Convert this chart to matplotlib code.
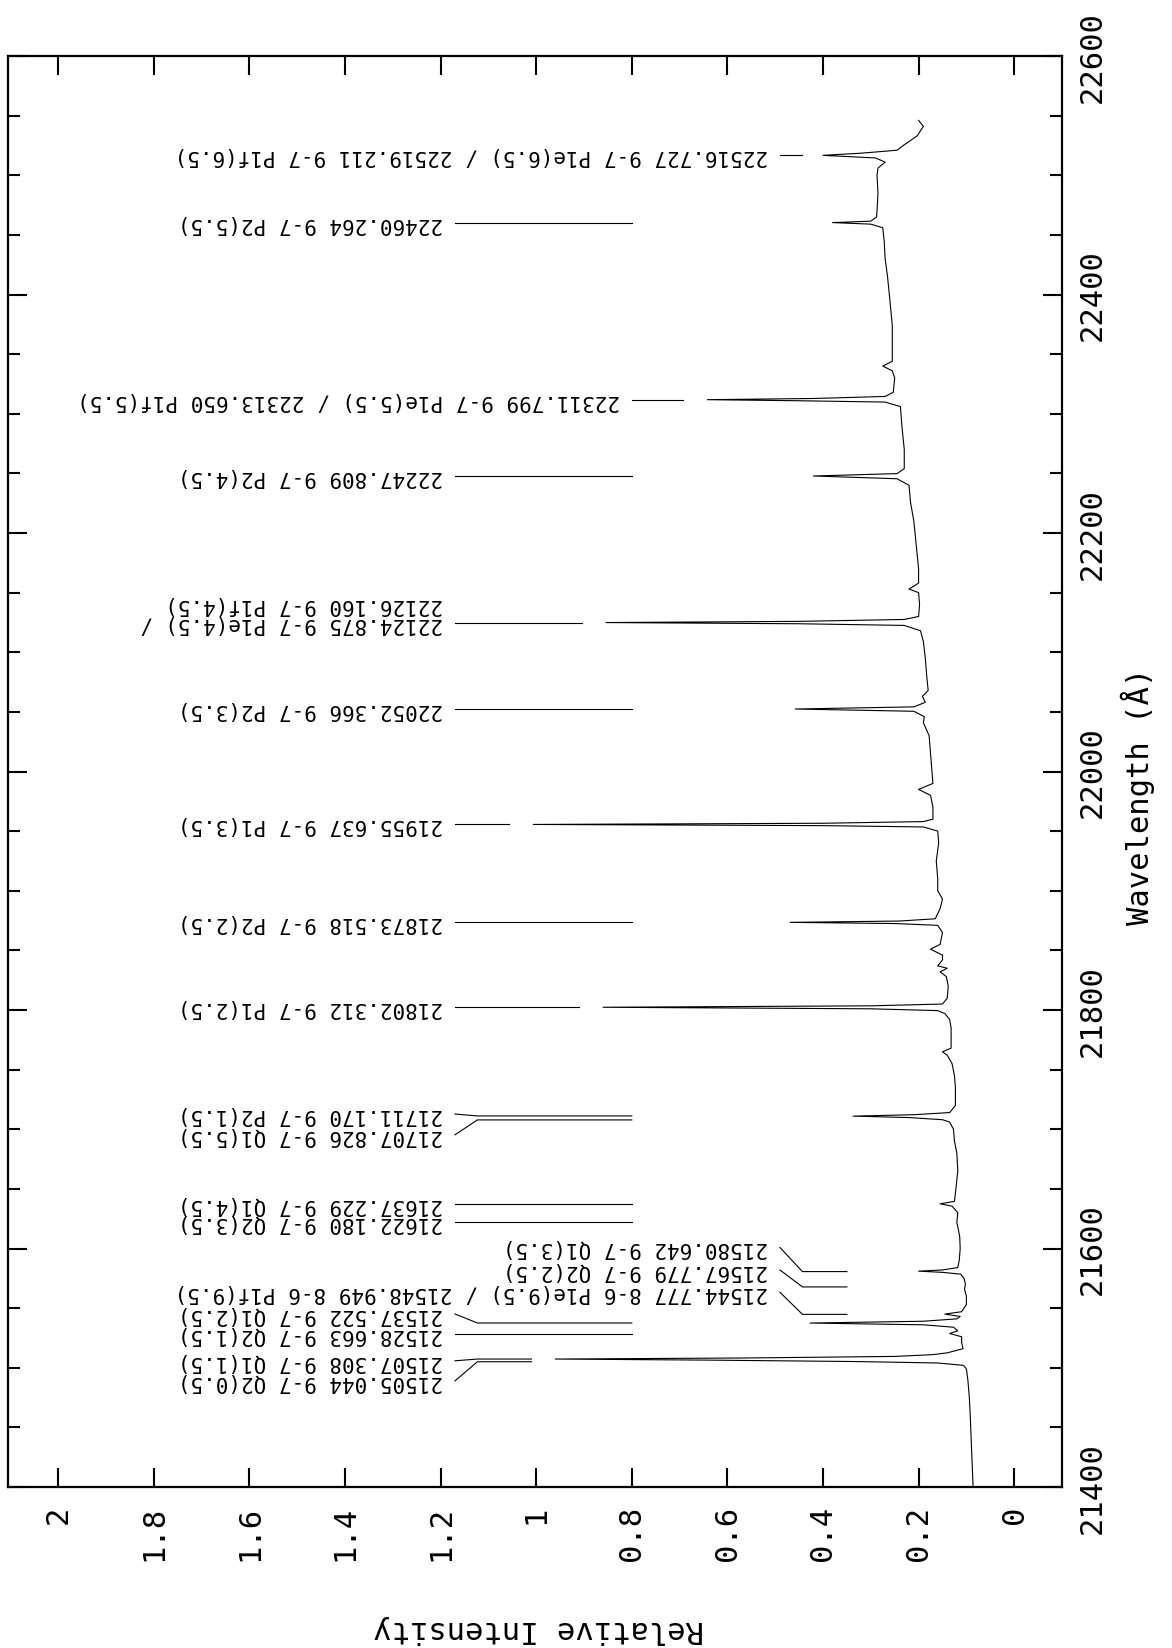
import numpy as np
import matplotlib
matplotlib.use("Agg")
import matplotlib.pyplot as plt

# spectrum: wavelength (A) and relative intensity
wave = [21400, 21420, 21440, 21460, 21476, 21490, 21499, 21502, 21504, 21505.2,
        21506.4, 21507.3, 21508.2, 21509.5, 21511, 21512.5, 21516, 21521, 21526, 21528.7,
        21531, 21534, 21536, 21537.5, 21539, 21541, 21543, 21545, 21547, 21550,
        21553, 21560, 21566, 21570, 21575, 21578.5, 21580, 21581, 21582, 21584,
        21590, 21600, 21610, 21622, 21630, 21635.5, 21637.5, 21639.5, 21650, 21665,
        21680, 21690, 21700, 21706, 21708, 21709.8, 21711, 21712.2, 21714, 21720,
        21735, 21745, 21755, 21762, 21765, 21768, 21785, 21792, 21797, 21799.5,
        21801, 21802.3, 21803.5, 21805, 21810, 21820, 21828, 21832, 21835, 21837,
        21842, 21846, 21851, 21855, 21865, 21871, 21872.5, 21873.5, 21874.6, 21876.5,
        21885, 21893, 21900, 21910, 21925, 21940, 21950, 21953.5, 21954.6, 21955.6,
        21956.6, 21958, 21960, 21970, 21980, 21985, 21990, 22000, 22015, 22030,
        22041, 22046, 22050.5, 22052.4, 22054.2, 22058, 22063, 22068, 22080, 22095,
        22109, 22118, 22122.5, 22123.9, 22124.9, 22125.9, 22127.5, 22130, 22140, 22150,
        22153, 22158, 22170, 22190, 22210, 22226, 22240, 22245.5, 22247.8, 22249.8,
        22254, 22270, 22290, 22306, 22309.8, 22310.9, 22311.8, 22312.8, 22314.5, 22318,
        22330, 22336, 22340, 22344, 22360, 22374, 22395, 22415, 22430, 22445,
        22456, 22459, 22460.3, 22461.5, 22465, 22470, 22485, 22500, 22506, 22511,
        22514.5, 22516.7, 22518.5, 22521, 22525, 22533, 22541, 22546]
flux = [0.086, 0.088, 0.090, 0.092, 0.094, 0.097, 0.100, 0.106, 0.160, 0.330,
        0.640, 0.960, 0.560, 0.250, 0.170, 0.140, 0.107, 0.110, 0.110, 0.135,
        0.118, 0.127, 0.190, 0.427, 0.190, 0.120, 0.113, 0.145, 0.110, 0.105,
        0.100, 0.100, 0.104, 0.102, 0.105, 0.112, 0.150, 0.200, 0.150, 0.118,
        0.115, 0.113, 0.114, 0.120, 0.118, 0.130, 0.155, 0.125, 0.122, 0.118,
        0.120, 0.125, 0.127, 0.135, 0.150, 0.220, 0.337, 0.210, 0.135, 0.123,
        0.123, 0.125, 0.130, 0.140, 0.150, 0.132, 0.132, 0.135, 0.145, 0.160,
        0.300, 0.860, 0.300, 0.150, 0.140, 0.138, 0.142, 0.155, 0.140, 0.160,
        0.150, 0.150, 0.175, 0.155, 0.150, 0.160, 0.250, 0.469, 0.240, 0.165,
        0.155, 0.150, 0.160, 0.160, 0.163, 0.158, 0.160, 0.190, 0.400, 1.006,
        0.400, 0.190, 0.170, 0.170, 0.175, 0.200, 0.170, 0.172, 0.175, 0.178,
        0.190, 0.188, 0.210, 0.458, 0.210, 0.186, 0.192, 0.180, 0.183, 0.186,
        0.190, 0.196, 0.230, 0.450, 0.854, 0.450, 0.230, 0.200, 0.198, 0.200,
        0.220, 0.200, 0.200, 0.205, 0.210, 0.217, 0.220, 0.245, 0.420, 0.245,
        0.230, 0.230, 0.235, 0.238, 0.270, 0.450, 0.642, 0.420, 0.270, 0.253,
        0.250, 0.255, 0.275, 0.255, 0.255, 0.255, 0.260, 0.265, 0.270, 0.272,
        0.275, 0.300, 0.380, 0.300, 0.288, 0.287, 0.285, 0.287, 0.285, 0.270,
        0.290, 0.400, 0.320, 0.245, 0.232, 0.203, 0.190, 0.200]

# line identifications
line_wave = [21505.044, 21507.308, 21528.663, 21537.522, 21544.777, 21567.779,
             21580.642, 21622.180, 21637.229, 21707.826, 21711.170, 21802.312,
             21873.518, 21955.637, 22052.366, 22124.875, 22247.809, 22311.799,
             22460.264, 22516.727]
line_text = ["21505.044 9-7 Q2(0.5)",
             "21507.308 9-7 Q1(1.5)",
             "21528.663 9-7 Q2(1.5)",
             "21537.522 9-7 Q1(2.5)",
             "21544.777 8-6 P1e(9.5) / 21548.949 8-6 P1f(9.5)",
             "21567.779 9-7 Q2(2.5)",
             "21580.642 9-7 Q1(3.5)",
             "21622.180 9-7 Q2(3.5)",
             "21637.229 9-7 Q1(4.5)",
             "21707.826 9-7 Q1(5.5)",
             "21711.170 9-7 P2(1.5)",
             "21802.312 9-7 P1(2.5)",
             "21873.518 9-7 P2(2.5)",
             "21955.637 9-7 P1(3.5)",
             "22052.366 9-7 P2(3.5)",
             "22124.875 9-7 P1e(4.5) /\n22126.160 9-7 P1f(4.5)",
             "22247.809 9-7 P2(4.5)",
             "22311.799 9-7 P1e(5.5) / 22313.650 P1f(5.5)",
             "22460.264 9-7 P2(5.5)",
             "22516.727 9-7 P1e(6.5) / 22519.211 9-7 P1f(6.5)"]

# label placement: (leader start, leader end, text shift in A)
FAR = (1.17, 0.80)
NEAR = (0.49, 0.35)
layout = [FAR + (-16.1,), FAR + (-1.5,), FAR + (0,), FAR + (7.6,), NEAR + (18.5,),
          NEAR + (14.2,), NEAR + (20.2,), FAR + (0,), FAR + (0,), FAR + (-12.5,),
          FAR + (1.6,), FAR + (0,), FAR + (0,), FAR + (0,), FAR + (0,),
          FAR + (0,), FAR + (0,), (0.80, 0.35, 0), FAR + (0,), NEAR + (0,)]

mono = "DejaVu Sans Mono"
plt.rcParams["font.family"] = mono

fig = plt.figure(figsize=(11.72, 16.49), dpi=100)
ax = fig.add_axes([8 / 1172, 161 / 1649, 1054 / 1172, 1431 / 1649])

ax.plot(flux, wave, color="black", lw=0.8)

w = np.array(wave)
f = np.array(flux)
for lw_, txt, (start, stop, shift) in zip(line_wave, line_text, layout):
    near = (w > lw_ - 2.5) & (w < lw_ + 2.5)
    peak = f[near].max() if near.any() else 0
    # leader stops short of strong peaks
    stop = max(stop, peak + 0.05)
    wt = lw_ + shift
    ax.plot([start, start - 0.047, stop], [wt, lw_, lw_], color="black", lw=0.8)
    for k, part in enumerate(txt.split("\n")):
        ax.text(start + 0.025, wt + 16 * k, part, rotation=180, ha="right",
                va="center", fontsize=15, family=mono)

ax.set_xlim(2.105, -0.1)
ax.set_ylim(21400, 22600)

ticks = np.round(np.arange(0, 2.01, 0.2), 1)
ax.set_xticks(ticks)
ax.set_xticklabels([f"{v:g}" for v in ticks])
ax.set_yticks(range(21400, 22601, 200))
ax.set_yticks(range(21400, 22601, 50), minor=True)

ax.tick_params(axis="x", which="both", direction="in", top=True, bottom=True,
               length=14, width=1.5, labelsize=22, labelrotation=90, pad=13)
ax.tick_params(axis="y", which="major", direction="in", left=True, right=True,
               labelleft=False, labelright=True, length=14, width=1.5,
               labelsize=22, labelrotation=90, pad=11)
ax.tick_params(axis="y", which="minor", direction="in", left=True, right=True,
               length=8.5, width=1.5)
for t in ax.get_yticklabels():
    t.set_va("center")

for s in ax.spines.values():
    s.set_linewidth(1.6)

fig.text(0.46, 0.012, "Relative Intensity", rotation=180, ha="center",
         va="center", fontsize=22)
fig.text(0.971, 0.517, "Wavelength (Å)", rotation=90, ha="center",
         va="center", fontsize=22)

fig.savefig("out.png", dpi=100)
